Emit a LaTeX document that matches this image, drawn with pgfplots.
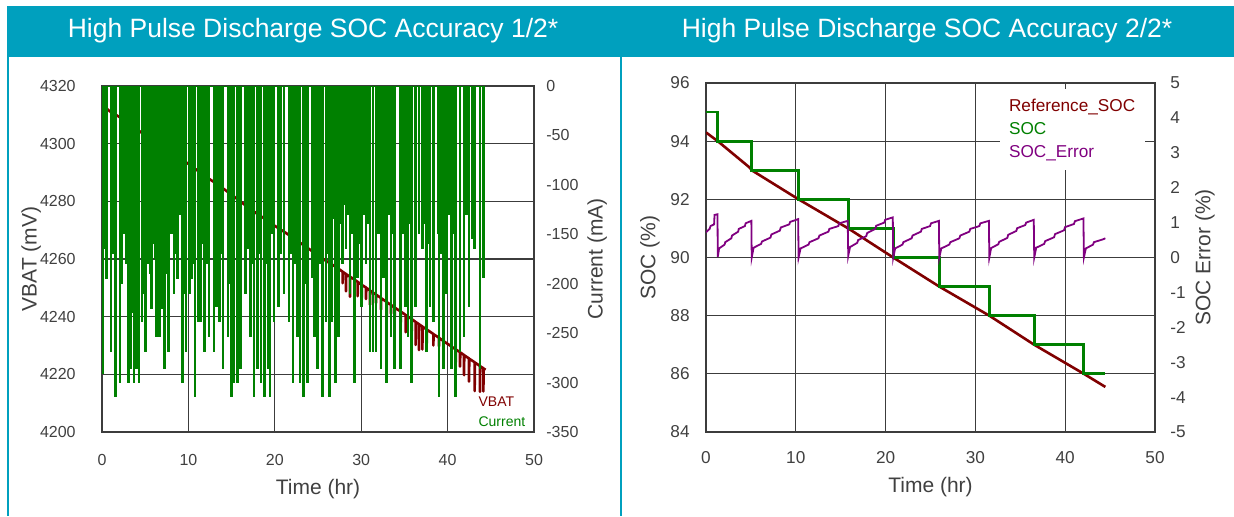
\documentclass[border=0pt]{standalone}
\usepackage{fontspec}
\setmainfont{Liberation Sans}
\usepackage{pgfplots}
\pgfplotsset{compat=1.18}
\definecolor{hdr}{RGB}{0,160,190}
\definecolor{vred}{RGB}{128,0,0}
\definecolor{cgreen}{RGB}{0,128,0}
\definecolor{epurple}{RGB}{128,0,128}
\definecolor{txt}{RGB}{64,64,64}
\definecolor{gridc}{RGB}{60,60,60}
\pgfplotsset{
  common/.style={
    scale only axis, anchor=south west,
    major tick length=0pt,
    grid=major,
    major grid style={gridc, line width=0.6pt},
    axis line style={gridc, line width=0.8pt},
    scaled ticks=false,
    /pgf/number format/assume math mode=true,
    /pgf/number format/1000 sep={},
    xmin=0, xmax=50, xtick={0,10,...,50},
  }
}
\pgfplotstableread{
t i
0.08 -291
0.30 -165
0.54 -195
1.04 -269
1.25 -170
1.58 -315
2.08 -300
2.30 -200
2.55 -150
2.80 -180
3.09 -300
3.36 -286
3.55 -230
3.70 -300
3.85 -200
4.01 -286
4.15 -170
4.28 -300
4.63 -239
4.85 -210
5.05 -269
5.36 -180
5.55 -190
5.75 -226
5.95 -160
6.15 -175
6.33 -254
6.64 -254
6.80 -200
6.94 -226
7.25 -286
7.48 -190
7.71 -269
8.06 -150
8.33 -210
8.55 -170
8.76 -195
9.00 -130
9.30 -300
9.50 -210
9.72 -269
10.11 -210
10.38 -195
10.58 -180
10.76 -315
11.19 -239
11.42 -239
11.62 -160
11.88 -269
12.15 -180
12.38 -254
12.96 -269
13.23 -224
13.42 -170
13.62 -239
13.85 -170
14.00 -286
14.58 -254
14.78 -200
14.97 -315
15.28 -300
15.66 -300
15.85 -180
16.05 -286
16.63 -210
16.90 -165
17.21 -254
17.40 -180
17.59 -315
17.98 -286
18.15 -170
18.37 -300
18.83 -315
19.05 -180
19.21 -286
19.44 -315
19.70 -150
19.91 -239
20.45 -224
20.75 -170
21.06 -210
21.61 -239
21.85 -170
22.11 -300
22.40 -180
22.61 -254
22.92 -300
23.30 -315
23.55 -200
23.80 -300
24.38 -194
24.58 -254
24.75 -110
24.96 -286
25.25 -180
25.54 -315
25.93 -239
26.10 -170
26.31 -315
26.62 -239
26.85 -135
27.01 -300
27.20 -160
27.39 -254
27.60 -140
27.85 -180
28.05 -120
28.24 -165
28.45 -130
28.70 -210
28.95 -150
29.21 -300
29.40 -120
29.59 -194
29.82 -160
30.05 -224
30.30 -130
30.56 -180
30.80 -140
31.02 -269
31.40 -269
31.71 -269
32.00 -150
32.29 -286
32.56 -194
32.95 -300
33.15 -130
33.45 -254
33.65 -150
33.87 -286
34.57 -286
34.80 -150
35.15 -224
35.42 -254
35.65 -140
35.84 -300
36.30 -224
36.69 -150
37.08 -165
37.30 -140
37.58 -269
37.78 -160
37.96 -224
38.35 -239
38.90 -150
39.00 -315
39.25 -170
39.51 -286
39.89 -210
40.20 -130
40.43 -286
40.65 -150
40.93 -315
41.44 -269
41.90 -254
42.20 -130
42.48 -224
42.90 -155
43.13 -165
43.75 -286
44.14 -194
}\currenttable
\begin{document}
\begin{tikzpicture}
\useasboundingbox (0,0) rectangle (617pt,258pt);
\fill[hdr] (3.5pt,229.5pt) rectangle (617pt,255pt);
\fill[hdr] (3.5pt,0) rectangle (4.5pt,229.5pt);
\fill[hdr] (310pt,0) rectangle (311pt,229.5pt);
\node[text=white, font=\fontsize{13.25}{15}\selectfont] at (156.5pt,242.5pt) {High Pulse Discharge SOC Accuracy 1/2*};
\node[text=white, font=\fontsize{13.25}{15}\selectfont] at (463.5pt,242.5pt) {High Pulse Discharge SOC Accuracy 2/2*};

% ---------------- Left chart ----------------
\begin{axis}[common, at={(51pt,42pt)}, width=216pt, height=173pt,
  ymin=4200, ymax=4320, ytick={4200,4220,...,4320},
  tick label style={font=\fontsize{8}{10}\selectfont, text=txt, inner sep=0pt},
  xticklabel style={anchor=north, yshift=-11pt},
  yticklabel style={anchor=east, xshift=-13pt},
  xlabel={Time (hr)}, ylabel={VBAT (mV)},
  every axis x label/.style={at={(axis description cs:0.5,-0.165)}, anchor=center, font=\fontsize{10.5}{12}\selectfont, text=txt},
  every axis y label/.style={at={(axis description cs:-0.164,0.5)}, rotate=90, anchor=center, font=\fontsize{10.5}{12}\selectfont, text=txt},
]
\addplot[vred, line width=1.3pt, line join=round] coordinates {
(0,4313.5)(1,4311)(2,4309.3)(3,4307.3)(4,4305)(5,4303)(6,4301)(7,4299)(8,4296.8)(9,4295)(10,4293)
(11,4290.8)(12,4288.6)(13,4286.6)(14,4284.5)(15,4282.3)(16,4280)(17,4277.7)(18,4275.6)(19,4273.6)(20,4271.5)
(21,4269.6)(22,4267.6)(23,4265.5)(24,4263.4)(25,4261.3)(26,4259.2)(27,4257.4)
(27.85,4255.6)(27.85,4251.6)(27.88,4255.5)
(28.24,4254.8)(28.24,4248.8)(28.27,4254.7)
(28.70,4253.9)(28.70,4246.9)(28.73,4253.8)
(29.21,4252.9)(29.21,4244.9)(29.24,4252.8)
(29.59,4252.1)(29.59,4247.1)(29.62,4252.0)
(30.05,4251.1)(30.05,4245.1)(30.08,4251.0)
(30.56,4250.1)(30.56,4246.1)(30.59,4250.0)
(31.02,4249.1)(31.02,4244.1)(31.05,4249.0)
(31.71,4247.7)(31.71,4244.7)(31.74,4247.6)
(32.29,4246.5)(32.29,4242.5)(32.32,4246.4)
(32.95,4245.1)(32.95,4240.1)(32.98,4245.0)
(33.45,4244.1)(33.45,4241.1)(33.48,4244.0)
(33.87,4243.2)(33.87,4239.2)(33.90,4243.1)
(34.57,4241.8)(34.57,4237.8)(34.60,4241.7)
(35.15,4240.6)(35.15,4234.6)(35.18,4240.5)
(35.84,4239.2)(35.84,4234.2)(35.87,4239.1)
(36.30,4238.2)(36.30,4230.2)(36.33,4238.1)
(36.69,4237.4)(36.69,4228.4)(36.72,4237.3)
(37.08,4236.6)(37.08,4228.6)(37.11,4236.5)
(37.58,4235.6)(37.58,4230.6)(37.61,4235.5)
(38.35,4234.0)(38.35,4230.0)(38.38,4233.9)
(39.00,4232.7)(39.00,4229.7)(39.03,4232.6)
(39.51,4231.6)(39.51,4226.6)(39.54,4231.5)
(40.43,4229.7)(40.43,4225.7)(40.46,4229.6)
(40.93,4228.7)(40.93,4222.7)(40.96,4228.6)
(41.44,4227.7)(41.44,4222.7)(41.47,4227.6)
(41.90,4226.7)(41.90,4219.7)(41.93,4226.6)
(42.48,4225.5)(42.48,4217.5)(42.51,4225.4)
(43.13,4224.2)(43.13,4214.2)(43.16,4224.1)
(43.75,4222.9)(43.75,4213.9)(43.78,4222.8)
(44.14,4222.1)(44.14,4214.1)(44.17,4222.0)
(44.40,4221.6)
};
\end{axis}

\begin{axis}[common, grid=none, at={(51pt,42pt)}, width=216pt, height=173pt,
  ymin=-350, ymax=0, ytick={-350,-300,...,0},
  axis x line=none, axis y line*=right,
  tick label style={font=\fontsize{8}{10}\selectfont, text=txt, inner sep=0pt},
  yticklabel style={anchor=west, xshift=6pt},
  ylabel={Current (mA)},
  every axis y label/.style={at={(axis description cs:1.146,0.5)}, rotate=90, anchor=center, font=\fontsize{10.5}{12}\selectfont, text=txt},
  legend style={at={(axis description cs:0.99,-0.006)}, anchor=south east, draw=none, fill=none,
    font=\fontsize{7}{8}\selectfont, inner sep=0.5pt, row sep=0pt,
    nodes={inner sep=1.5pt, text height=5.6pt, text depth=1.4pt}},
  legend cell align=left,
]
\addplot[cgreen, ycomb, line width=1.2pt, forget plot] table[x=t, y=i] {\currenttable};
\addplot[cgreen, line width=1.3pt, forget plot] coordinates {(0,0)(44.3,0)};
\addlegendimage{empty legend}\addlegendentry{\textcolor{vred}{VBAT}}
\addlegendimage{empty legend}\addlegendentry{\textcolor{cgreen}{Current}}
\end{axis}

% ---------------- Right chart ----------------
\begin{axis}[common, at={(353pt,42pt)}, width=224.5pt, height=174.5pt,
  ymin=84, ymax=96, ytick={84,86,...,96},
  tick label style={font=\fontsize{8.6}{10}\selectfont, text=txt, inner sep=0pt},
  xticklabel style={anchor=north, yshift=-9.5pt},
  yticklabel style={anchor=east, xshift=-8pt},
  xlabel={Time (hr)}, ylabel={SOC (\%)},
  every axis x label/.style={at={(axis description cs:0.5,-0.158)}, anchor=center, font=\fontsize{10.5}{12}\selectfont, text=txt},
  every axis y label/.style={at={(axis description cs:-0.125,0.5)}, rotate=90, anchor=center, font=\fontsize{10.5}{12}\selectfont, text=txt},
]
\addplot[vred, line width=1.3pt] coordinates {
(0,94.3)(1.31,94.0)(4.87,93.09)(5.09,93.0)(10.31,92.0)(15.84,91.0)(20.85,90.0)(25.98,89.0)(31.55,88.0)(36.55,87.0)(42.08,86.0)(44.47,85.55)
};
\addplot[cgreen, line width=1.4pt] coordinates {
(0,95)(1.31,95)(1.31,94)(5.09,94)(5.09,93)(10.31,93)(10.31,92)(15.84,92)(15.84,91)(20.85,91)(20.85,90)(25.98,90)(25.98,89)(31.55,89)(31.55,88)(36.55,88)(36.55,87)(42.08,87)(42.08,86)(44.47,86)
};
\end{axis}

\begin{axis}[common, grid=none, at={(353pt,42pt)}, width=224.5pt, height=174.5pt,
  ymin=-5, ymax=5, ytick={-5,-4,...,5},
  axis x line=none, axis y line*=right,
  tick label style={font=\fontsize{8.6}{10}\selectfont, text=txt, inner sep=0pt},
  yticklabel style={anchor=west, xshift=7.5pt},
  ylabel={SOC Error (\%)},
  every axis y label/.style={at={(axis description cs:1.111,0.5)}, rotate=90, anchor=center, font=\fontsize{10.5}{12}\selectfont, text=txt},
  legend style={at={(axis description cs:0.978,0.983)}, anchor=north east, draw=none, fill=white,
    font=\fontsize{8.6}{10}\selectfont, inner sep=3pt, row sep=0pt,
    nodes={inner sep=1.75pt, text height=6.2pt, text depth=1.8pt}},
  legend cell align=left,
]
\addplot[epurple, line width=0.9pt, forget plot] coordinates {
(0,0.72)(0.4,0.82)(0.5,0.9)(0.9,0.95)(0.95,1.22)(1.28,1.24)(1.31,0.02)
(1.46,0.26)(2.07,0.37)(2.14,0.44)(2.82,0.55)(2.90,0.63)(3.58,0.74)(3.65,0.82)(4.33,0.90)(4.41,0.98)(5.05,1.05)(5.09,0)
(5.30,0.28)(6.13,0.39)(6.24,0.46)(7.18,0.57)(7.28,0.66)(8.22,0.77)(8.33,0.86)(9.27,0.95)(9.37,1.02)(10.26,1.10)(10.31,0)
(10.53,0.26)(11.42,0.37)(11.53,0.44)(12.52,0.55)(12.63,0.63)(13.63,0.74)(13.74,0.82)(14.73,0.90)(14.84,0.98)(15.78,1.05)(15.84,0.05)
(16.04,0.30)(16.84,0.42)(16.94,0.50)(17.84,0.61)(17.94,0.70)(18.85,0.82)(18.95,0.91)(19.85,1.00)(19.95,1.08)(20.80,1.15)(20.85,0)
(21.06,0.26)(21.88,0.37)(21.98,0.44)(22.90,0.55)(23.00,0.63)(23.93,0.74)(24.03,0.82)(24.95,0.90)(25.06,0.98)(25.93,1.05)(25.98,0)
(26.20,0.26)(27.09,0.37)(27.21,0.44)(28.21,0.55)(28.32,0.63)(29.32,0.74)(29.43,0.82)(30.44,0.90)(30.55,0.98)(31.50,1.05)(31.55,0)
(31.75,0.27)(32.55,0.38)(32.65,0.45)(33.55,0.56)(33.65,0.65)(34.55,0.76)(34.65,0.84)(35.55,0.93)(35.65,1.00)(36.50,1.08)(36.55,0)
(36.77,0.28)(37.66,0.39)(37.77,0.47)(38.76,0.58)(38.87,0.67)(39.87,0.78)(39.98,0.87)(40.97,0.96)(41.08,1.04)(42.03,1.12)(42.08,0)
(42.30,0.26)(43.10,0.37)(43.20,0.44)(44.20,0.52)(44.47,0.55)
};
\addlegendimage{empty legend}\addlegendentry{\textcolor{vred}{Reference\_SOC}}
\addlegendimage{empty legend}\addlegendentry{\textcolor{cgreen}{SOC}}
\addlegendimage{empty legend}\addlegendentry{\textcolor{epurple}{SOC\_Error}}
\end{axis}
\end{tikzpicture}
\end{document}
